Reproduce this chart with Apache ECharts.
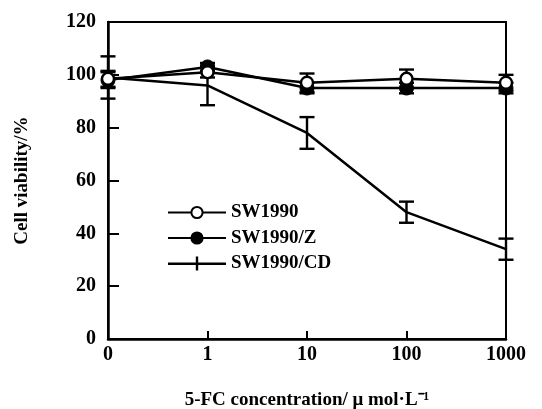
<!DOCTYPE html>
<html><head><meta charset="utf-8">
<script src="https://cdn.jsdelivr.net/npm/echarts@6/dist/echarts.min.js"></script>
<style>html,body{margin:0;padding:0;background:#fff}#c{width:542px;height:409px}</style>
</head><body><div id="c"></div>
<script>
var categories = ['0', '1', '10', '100', '1000'];
var sw1990 = [98.5, 101, 97, 98.5, 97];
var sw1990Err = [3, 2, 3.5, 3.5, 3];
var sw1990Z = [98, 103, 95, 95, 95];
var sw1990ZErr = [3, 1.5, 2, 2, 2];
var sw1990CD = [99, 96, 78, 48, 34];
var sw1990CDErr = [8, 7.5, 6, 4, 4];

function errData(vals, errs) {
  return vals.map(function (v, i) { return [i, v - errs[i], v + errs[i]]; });
}
function errSeries(vals, errs) {
  return {
    type: 'custom', silent: true, z: 1,
    data: errData(vals, errs),
    encode: { x: 0, y: [1, 2] },
    renderItem: function (params, api) {
      var lo = api.coord([api.value(0), api.value(1)]);
      var hi = api.coord([api.value(0), api.value(2)]);
      var w = 7.5;
      var st = { stroke: '#000', lineWidth: 2.4 };
      return { type: 'group', children: [
        { type: 'line', shape: { x1: lo[0], y1: lo[1], x2: hi[0], y2: hi[1] }, style: st },
        { type: 'line', shape: { x1: lo[0] - w, y1: lo[1], x2: lo[0] + w, y2: lo[1] }, style: st },
        { type: 'line', shape: { x1: hi[0] - w, y1: hi[1], x2: hi[0] + w, y2: hi[1] }, style: st }
      ]};
    }
  };
}
var font = 'Liberation Serif, Times New Roman, serif';
var chart = echarts.init(document.getElementById('c'), null, { renderer: 'canvas' });
chart.setOption({
  animation: false,
  backgroundColor: '#fff',
  grid: { left: 108, right: 36, top: 22, bottom: 70, show: true, borderColor: '#000', borderWidth: 2,
    containLabel: false, outerBoundsMode: 'none' },
  legend: {
    orient: 'vertical', left: 162, top: 198, itemWidth: 58, itemHeight: 14, itemGap: 6.5,
    data: [
      { name: 'SW1990' },
      { name: 'SW1990/Z' },
      { name: 'SW1990/CD', icon: 'path://M0,6 L58,6 L58,8.4 L0,8.4 Z M27.8,0 L30.2,0 L30.2,14 L27.8,14 Z' }
    ],
    textStyle: { fontFamily: font, fontWeight: 'bold', fontSize: 19, color: '#000' }
  },
  xAxis: {
    type: 'category', data: categories, boundaryGap: false,
    axisLine: { lineStyle: { color: '#000', width: 2.5 } },
    axisTick: { inside: true, length: 8, lineStyle: { color: '#000', width: 2 } },
    axisLabel: { fontFamily: font, fontWeight: 'bold', fontSize: 20, color: '#000', margin: 6 },
    name: '5-FC concentration/ μ mol·L⁻¹', nameLocation: 'middle', nameGap: 52,
    nameTextStyle: { fontFamily: font, fontWeight: 'bold', fontSize: 19, color: '#000' }
  },
  yAxis: {
    type: 'value', min: 0, max: 120, interval: 20,
    splitLine: { show: false },
    axisLine: { show: true, lineStyle: { color: '#000', width: 2.5 } },
    axisTick: { show: true, inside: true, length: 11, lineStyle: { color: '#000', width: 2 } },
    axisLabel: { fontFamily: font, fontWeight: 'bold', fontSize: 20, color: '#000', margin: 12 },
    name: 'Cell viability/%', nameLocation: 'middle', nameGap: 76,
    nameTextStyle: { fontFamily: font, fontWeight: 'bold', fontSize: 19, color: '#000' }
  },
  series: [
    errSeries(sw1990CD, sw1990CDErr),
    errSeries(sw1990Z, sw1990ZErr),
    errSeries(sw1990, sw1990Err),
    { name: 'SW1990/CD', type: 'line', data: sw1990CD, z: 2,
      symbol: 'none', itemStyle: { color: '#000' },
      lineStyle: { color: '#000', width: 2.5 } },
    { name: 'SW1990/Z', type: 'line', data: sw1990Z, z: 3,
      symbol: 'circle', symbolSize: 14, itemStyle: { color: '#000', borderColor: '#000', borderWidth: 1 },
      lineStyle: { color: '#000', width: 2.5 } },
    { name: 'SW1990', type: 'line', data: sw1990, z: 4,
      symbol: 'circle', symbolSize: 12, itemStyle: { color: '#fff', borderColor: '#000', borderWidth: 2.4 },
      lineStyle: { color: '#000', width: 2.5 } }
  ]
});
</script></body></html>
